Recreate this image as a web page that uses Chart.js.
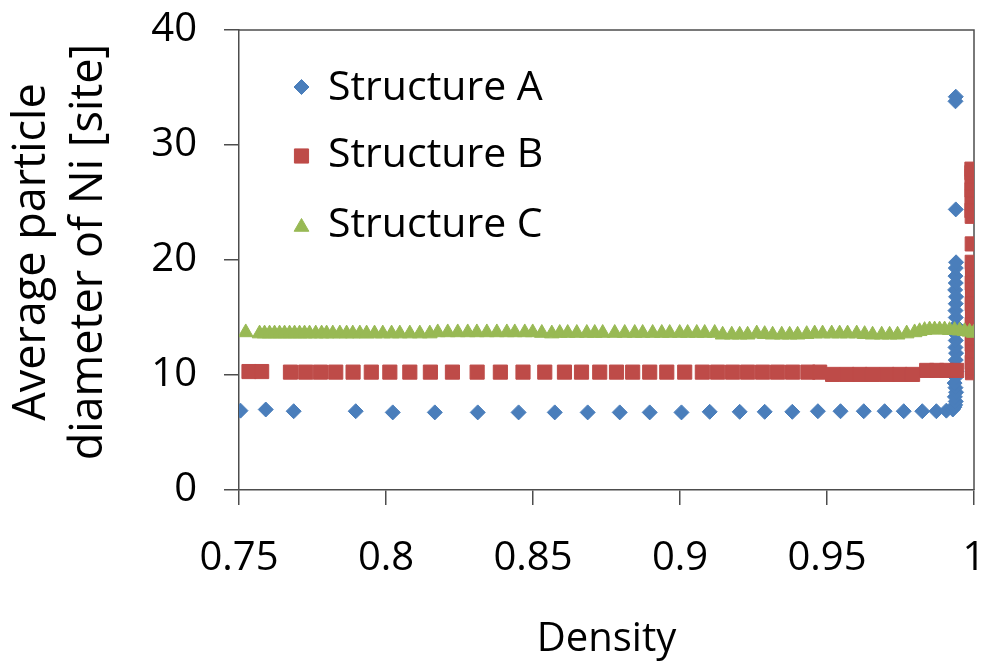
<!DOCTYPE html>
<html lang="en">
<head>
<meta charset="UTF-8">
<title>Average particle diameter of Ni vs density</title>
<script src="https://cdn.jsdelivr.net/npm/chart.js"></script>
<style>
    html, body { margin: 0; padding: 0; background: #fff; }
    #wrap { width: 988px; height: 664px; }
</style>
</head>
<body>
<div id="wrap"><canvas id="chart" width="988" height="664"></canvas></div>
<script>
    // Structure A (blue diamonds)
    const aX = [0.7505, 0.7591, 0.7686, 0.7897, 0.8023, 0.8166, 0.8312, 0.8451, 0.8574, 0.8686,
                0.8795, 0.8897, 0.9005, 0.9101, 0.9203, 0.9288, 0.9382, 0.9469, 0.9546, 0.9625,
                0.9696, 0.9761, 0.9824, 0.9872, 0.9906,
                0.9928, 0.9933, 0.9936, 0.9938, 0.9935, 0.9939, 0.9937, 0.9934, 0.9938, 0.9940,
                0.9936, 0.9938, 0.9939, 0.9937, 0.9938, 0.9936, 0.9939, 0.9938, 0.9937, 0.9938,
                0.9939, 0.9936, 0.9938, 0.9937, 0.9938, 0.9939, 0.9938, 0.9937, 0.9938];
    const aY = [6.9, 7.0, 6.85, 6.85, 6.75, 6.75, 6.75, 6.75, 6.75, 6.75,
                6.75, 6.75, 6.75, 6.8, 6.8, 6.8, 6.8, 6.85, 6.85, 6.85,
                6.85, 6.85, 6.85, 6.85, 6.9,
                7.0, 7.2, 7.4, 7.7, 8.1, 8.5, 8.9, 9.3, 9.8, 10.3,
                10.8, 11.3, 11.9, 12.4, 13.0, 13.6, 14.3, 15.0, 15.6, 16.2,
                16.8, 17.4, 18.0, 18.6, 19.3, 19.8, 24.4, 33.8, 34.2];

    // Structure B (red squares)
    const bX = [0.7534, 0.7577, 0.7675, 0.7727, 0.7777, 0.7829, 0.7888, 0.7950, 0.8013, 0.8081,
                0.8151, 0.8226, 0.8310, 0.8389, 0.8466, 0.8540, 0.8607, 0.8665, 0.8727, 0.8784,
                0.8839, 0.8897, 0.8955, 0.9016, 0.9076, 0.9128, 0.9179, 0.9230, 0.9281, 0.9332,
                0.9383, 0.9435, 0.9475, 0.9519, 0.9567, 0.9611, 0.9655, 0.9703, 0.9747, 0.9791,
                0.9839, 0.9873, 0.9907, 0.9941,
                0.9995, 0.9995, 0.9994, 0.9995, 0.9995, 0.9994, 0.9995, 0.9995, 0.9994, 0.9995,
                0.9995, 0.9994, 0.9995, 0.9995, 0.9994, 0.9995, 0.9995, 0.9994, 0.9994, 0.9994,
                0.9993, 0.9994, 0.9994, 0.9993, 0.9994, 0.9994, 0.9993, 0.9993];
    const bY = [10.3, 10.3, 10.25, 10.25, 10.25, 10.25, 10.25, 10.25, 10.25, 10.25,
                10.25, 10.25, 10.25, 10.25, 10.25, 10.25, 10.25, 10.25, 10.25, 10.25,
                10.25, 10.25, 10.25, 10.25, 10.25, 10.25, 10.25, 10.25, 10.25, 10.25,
                10.25, 10.25, 10.25, 10.05, 10.05, 10.05, 10.05, 10.05, 10.05, 10.05,
                10.4, 10.4, 10.4, 10.4,
                10.2, 10.6, 11.1, 11.6, 12.1, 12.7, 13.2, 13.8, 14.4, 15.0,
                15.6, 16.2, 16.8, 17.4, 18.0, 18.6, 19.2, 19.8, 21.4, 23.8,
                24.3, 24.9, 25.5, 26.1, 26.7, 27.3, 27.6, 27.9];

    // Structure C (green triangles)
    const cX = [0.7523, 0.7570, 0.7587, 0.7604, 0.7621, 0.7638, 0.7655, 0.7672, 0.7689, 0.7706,
                0.7723, 0.7740, 0.7761, 0.7781, 0.7798, 0.7819, 0.7843, 0.7866, 0.7887, 0.7911,
                0.7934, 0.7961, 0.7989, 0.8019, 0.8047, 0.8081, 0.8115, 0.8149, 0.8176, 0.8210,
                0.8244, 0.8278, 0.8309, 0.8343, 0.8377, 0.8411, 0.8438, 0.8472, 0.8499, 0.8530,
                0.8564, 0.8591, 0.8618, 0.8649, 0.8683, 0.8710, 0.8737, 0.8778, 0.8812, 0.8846,
                0.8873, 0.8907, 0.8938, 0.8965, 0.8999, 0.9026, 0.9057, 0.9084, 0.9118, 0.9145,
                0.9176, 0.9203, 0.9230, 0.9261, 0.9288, 0.9315, 0.9346, 0.9373, 0.9400, 0.9431,
                0.9458, 0.9485, 0.9516, 0.9543, 0.9570, 0.9601, 0.9628, 0.9655, 0.9686, 0.9713,
                0.9740, 0.9771, 0.9798, 0.9815, 0.9832, 0.9849, 0.9866, 0.9883, 0.9900, 0.9917,
                0.9934, 0.9951, 0.9968, 0.9985, 0.9999];
    const cY = [13.7, 13.6, 13.6, 13.6, 13.6, 13.6, 13.6, 13.6, 13.6, 13.6,
                13.6, 13.6, 13.6, 13.6, 13.6, 13.6, 13.6, 13.6, 13.6, 13.6,
                13.6, 13.6, 13.6, 13.6, 13.6, 13.6, 13.6, 13.6, 13.7, 13.7,
                13.7, 13.7, 13.7, 13.7, 13.7, 13.7, 13.7, 13.7, 13.7, 13.65,
                13.6, 13.65, 13.65, 13.65, 13.65, 13.65, 13.65, 13.65, 13.65, 13.65,
                13.65, 13.65, 13.65, 13.65, 13.65, 13.65, 13.65, 13.65, 13.65, 13.5,
                13.5, 13.5, 13.5, 13.6, 13.55, 13.5, 13.5, 13.5, 13.5, 13.55,
                13.6, 13.6, 13.6, 13.6, 13.6, 13.6, 13.55, 13.5, 13.5, 13.5,
                13.5, 13.6, 13.7, 13.8, 13.9, 13.95, 13.95, 13.95, 13.95, 13.9,
                13.9, 13.85, 13.8, 13.75, 13.65];

    const seriesNames = ['Structure A', 'Structure B', 'Structure C'];
    const xTicks = [0.75, 0.8, 0.85, 0.9, 0.95, 1];
    const yTicks = [0, 10, 20, 30, 40];
    const yTitleLines = ['Average particle', 'diameter of Ni [site]'];

    const FONT = "'Open Sans', sans-serif";
    const AXIS = '#4d4d4d';

    const pts = (xs, ys) => xs.map((x, i) => ({ x: x, y: ys[i] }));

    // drop the automatic label overflow padding so layout.padding alone places the plot
    const noOverflow = (s) => {
        s.paddingTop = 0; s.paddingBottom = 0; s.paddingLeft = 0; s.paddingRight = 0;
    };

    // top and right edges of the plot frame (left/bottom come from the axes)
    const framePlugin = {
        id: 'frame',
        beforeDatasetsDraw(chart) {
            const { ctx, chartArea: a } = chart;
            ctx.save();
            ctx.strokeStyle = AXIS;
            ctx.lineWidth = 1.5;
            ctx.beginPath();
            ctx.moveTo(a.left, a.top);
            ctx.lineTo(a.right, a.top);
            ctx.lineTo(a.right, a.bottom);
            ctx.stroke();
            ctx.restore();
        }
    };

    // two-line rotated y axis title, sitting a little above the plot's middle
    const yTitlePlugin = {
        id: 'yTitle',
        afterDraw(chart) {
            const ctx = chart.ctx;
            const cy = (chart.chartArea.top + chart.chartArea.bottom) / 2 - 8;
            ctx.save();
            ctx.fillStyle = '#000';
            ctx.font = '45px ' + FONT;
            ctx.textAlign = 'center';
            ctx.textBaseline = 'middle';
            yTitleLines.forEach((line, i) => {
                ctx.save();
                ctx.translate(32 + i * 57, cy);
                ctx.rotate(-Math.PI / 2);
                ctx.fillText(line, 0, 0);
                ctx.restore();
            });
            ctx.restore();
        }
    };

    // legend placed inside the plot, upper left
    const legendPlugin = {
        id: 'insideLegend',
        afterDraw(chart) {
            const ctx = chart.ctx;
            const rows = [{ mark: 87, base: 100 }, { mark: 156, base: 167 }, { mark: 227, base: 237 }];
            ctx.save();
            chart.data.datasets.forEach((ds, i) => {
                ctx.fillStyle = ds.backgroundColor;
                ctx.strokeStyle = ds.borderColor;
                ctx.lineWidth = 1;
                Chart.helpers.drawPoint(ctx, {
                    pointStyle: ds.pointStyle, radius: ds.pointRadius, rotation: 0, borderWidth: 1
                }, 301.5, rows[i].mark);
                ctx.fillStyle = '#000';
                ctx.font = '41px ' + FONT;
                ctx.textAlign = 'left';
                ctx.textBaseline = 'alphabetic';
                ctx.fillText(ds.label, 328, rows[i].base);
            });
            ctx.restore();
        }
    };

    new Chart(document.getElementById('chart'), {
        type: 'scatter',
        data: {
            datasets: [
                { label: seriesNames[0], data: pts(aX, aY), pointStyle: 'rectRot', pointRadius: 7.5,
                  backgroundColor: '#4a7ebb', borderColor: '#4a7ebb', borderWidth: 1, order: 2 },
                { label: seriesNames[1], data: pts(bX, bY), pointStyle: 'rect', pointRadius: 10,
                  backgroundColor: '#be4b48', borderColor: '#be4b48', borderWidth: 1, order: 1 },
                { label: seriesNames[2], data: pts(cX, cY), pointStyle: 'triangle', pointRadius: 8.5,
                  backgroundColor: '#98b954', borderColor: '#98b954', borderWidth: 1, order: 0 }
            ]
        },
        options: {
            responsive: false,
            animation: false,
            layout: { padding: { top: 30, right: 14, left: 0, bottom: 0 } },
            plugins: {
                legend: { display: false },
                tooltip: { enabled: false }
            },
            scales: {
                x: {
                    type: 'linear',
                    min: 0.75,
                    max: 1,
                    afterBuildTicks: (s) => { s.ticks = xTicks.map(v => ({ value: v })); },
                    afterFit: (s) => { s.height = 174; noOverflow(s); },
                    ticks: {
                        autoSkip: false, maxRotation: 0, padding: 30, color: '#000',
                        font: { family: FONT, size: 40 },
                        callback: (v) => String(v)
                    },
                    grid: { drawOnChartArea: false, tickLength: 15, color: AXIS, lineWidth: 1.5 },
                    border: { color: AXIS, width: 1.5 },
                    title: {
                        display: true, text: 'Density', color: '#000',
                        font: { family: FONT, size: 40, lineHeight: 1.2 },
                        padding: { top: 0, bottom: 0 }
                    }
                },
                y: {
                    min: 0,
                    max: 40,
                    afterBuildTicks: (s) => { s.ticks = yTicks.map(v => ({ value: v })); },
                    afterFit: (s) => { s.width = 239; noOverflow(s); },
                    ticks: {
                        padding: 27, color: '#000',
                        font: { family: FONT, size: 40 }
                    },
                    grid: { drawOnChartArea: false, tickLength: 15, color: AXIS, lineWidth: 1.5 },
                    border: { color: AXIS, width: 1.5 }
                }
            }
        },
        plugins: [framePlugin, yTitlePlugin, legendPlugin]
    });
</script>
</body>
</html>
